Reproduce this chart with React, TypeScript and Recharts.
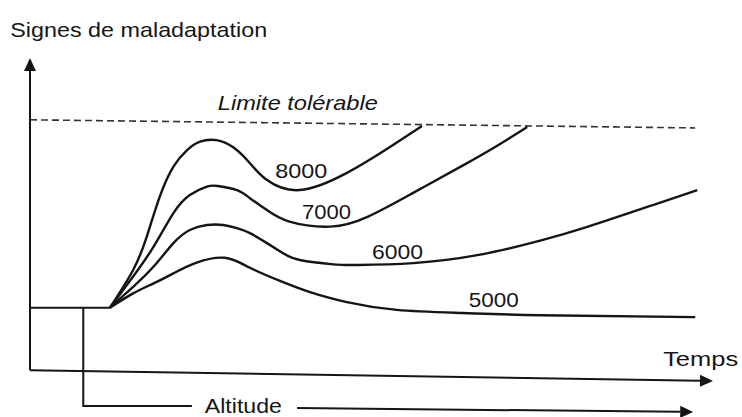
import React from "react";
import { LineChart, Line, XAxis, YAxis, ReferenceLine, ReferenceDot } from "recharts";

// ---- data (time units 0..100, maladaptation units) ----
const baseT = [0, 11.7];
const baseV = [20, 20];

const t8000 = [11.7, 15.1, 17.1, 19.0, 21.0, 23.0, 24.9, 27.3, 29.8, 32.2, 34.7, 39.5, 46.4, 52.7, 57.4];
const v8000 = [20, 32.1, 42.8, 55.6, 65.2, 70.5, 73.2, 73.7, 71.3, 66.3, 60.9, 57.7, 63.2, 71.5, 78.2];

const t7000 = [11.7, 15.1, 18.1, 21.0, 23.4, 25.9, 27.5, 30.3, 32.2, 34.7, 38.0, 44.0, 49.5, 56.1, 63.4, 68.4, 72.8];
const v7000 = [20, 30.0, 39.6, 50.3, 56.1, 58.8, 59.0, 57.7, 55.1, 51.3, 47.6, 46.0, 49.2, 56.8, 65.6, 71.9, 77.9];

const t6000 = [11.7, 15.1, 18.1, 21.0, 23.4, 25.9, 28.3, 30.3, 32.2, 34.7, 37.1, 39.5, 44.4, 47.9, 56.1, 65.9, 74.7, 81.6, 91.2, 97.7];
const v6000 = [20, 26.7, 33.2, 40.7, 44.9, 46.5, 46.5, 45.5, 43.9, 40.7, 37.4, 35.3, 33.9, 33.7, 34.3, 37.0, 41.5, 45.9, 52.9, 57.7];

const t5000 = [11.7, 15.1, 18.1, 21.0, 24.2, 28.5, 32.2, 36.6, 41.0, 46.4, 53.7, 63.4, 74.7, 97.4];
const v5000 = [20, 24.6, 27.8, 31.0, 34.3, 36.0, 32.8, 28.6, 25.0, 21.8, 19.3, 18.3, 17.6, 17.0];

// altitude step (time of altitude change)
const altT = [7.8, 7.8, 23.7];
const altV = [20, -11.5, -11.5];

const limitT = [0, 97.4];
const limitV = [80.2, 77.6];

const seriesNames = ["8000", "7000", "6000", "5000"];

const zip = (ts: number[], vs: number[]) => ts.map((t, i) => ({ t, v: vs[i] }));

const baseData = zip(baseT, baseV);
const altData = zip(altT, altV);
const curves = [zip(t8000, v8000), zip(t7000, v7000), zip(t6000, v6000), zip(t5000, v5000)];

// label anchors (data coords)
const curveLabelPos = [
  { t: 39.7, v: 61.6, len: 52 },
  { t: 43.4, v: 48.4, len: 49 },
  { t: 53.8, v: 35.6, len: 51 },
  { t: 67.9, v: 20.2, len: 50 },
];

const INK = "#151515";
const FONT = "'Liberation Sans', Arial, Helvetica, sans-serif";

const makeText = (text: string, anchor: string, len: number, italic = false) => (p: any) => (
  <text
    x={p.cx}
    y={p.cy}
    textAnchor={anchor}
    fontFamily={FONT}
    fontSize={21}
    fontStyle={italic ? "italic" : "normal"}
    fill={INK}
    textLength={len}
    lengthAdjust="spacingAndGlyphs"
  >
    {text}
  </text>
);

const arrowLine = (len: number, half: number, width: number) => (p: any) => {
  const { x1, y1, x2, y2 } = p;
  const dx = x2 - x1;
  const dy = y2 - y1;
  const d = Math.sqrt(dx * dx + dy * dy) || 1;
  const ux = dx / d;
  const uy = dy / d;
  const bx = x2 - ux * len;
  const by = y2 - uy * len;
  const px = -uy * half;
  const py = ux * half;
  return (
    <g>
      <line x1={x1} y1={y1} x2={bx} y2={by} stroke={INK} strokeWidth={width} />
      <polygon points={`${x2},${y2} ${bx + px},${by + py} ${bx - px},${by - py}`} fill={INK} />
    </g>
  );
};

export default function App() {
  return (
    <div style={{ position: "absolute", left: 0, top: 0, width: 742, height: 417, background: "#fff" }}>
      <LineChart width={742} height={417} margin={{ top: 58, right: 29, bottom: 0, left: 30 }}>
        <XAxis type="number" dataKey="t" domain={[0, 100]} hide allowDataOverflow />
        <YAxis type="number" dataKey="v" domain={[-15, 100]} hide allowDataOverflow />

        {/* axes */}
        <ReferenceLine
          segment={[{ x: 0, y: 0 }, { x: 0, y: 100 }]}
          ifOverflow="visible"
          shape={arrowLine(13, 6, 2)}
        />
        <ReferenceLine
          segment={[{ x: 0, y: 0 }, { x: 100, y: -3.46 }]}
          ifOverflow="visible"
          shape={arrowLine(13, 6, 2)}
        />
        <ReferenceLine
          segment={[{ x: 39.1, y: -12.1 }, { x: 97.1, y: -13.4 }]}
          ifOverflow="visible"
          shape={arrowLine(13, 6, 2)}
        />

        {/* tolerable limit */}
        <ReferenceLine
          segment={[{ x: limitT[0], y: limitV[0] }, { x: limitT[1], y: limitV[1] }]}
          ifOverflow="visible"
          stroke="#333"
          strokeWidth={1.6}
          strokeDasharray="7 4"
        />

        <Line data={baseData} dataKey="v" type="linear" stroke={INK} strokeWidth={2.2} dot={false} isAnimationActive={false} />
        <Line data={altData} dataKey="v" type="linear" stroke={INK} strokeWidth={2} dot={false} isAnimationActive={false} />
        {curves.map((d, i) => (
          <Line
            key={seriesNames[i]}
            name={seriesNames[i]}
            data={d}
            dataKey="v"
            type="natural"
            stroke={INK}
            strokeWidth={2.4}
            dot={false}
            isAnimationActive={false}
          />
        ))}

        {curveLabelPos.map((p, i) => (
          <ReferenceDot key={"l" + i} x={p.t} y={p.v} r={0} ifOverflow="visible" shape={makeText(seriesNames[i], "middle", p.len)} />
        ))}
        <ReferenceDot x={-2.9} y={106.7} r={0} ifOverflow="visible" shape={makeText("Signes de maladaptation", "start", 257)} />
        <ReferenceDot x={27.5} y={83.4} r={0} ifOverflow="visible" shape={makeText("Limite tolérable", "start", 160, true)} />
        <ReferenceDot x={92.7} y={1.35} r={0} ifOverflow="visible" shape={makeText("Temps", "start", 75)} />
        <ReferenceDot x={25.6} y={-13.7} r={0} ifOverflow="visible" shape={makeText("Altitude", "start", 77)} />
      </LineChart>
    </div>
  );
}
